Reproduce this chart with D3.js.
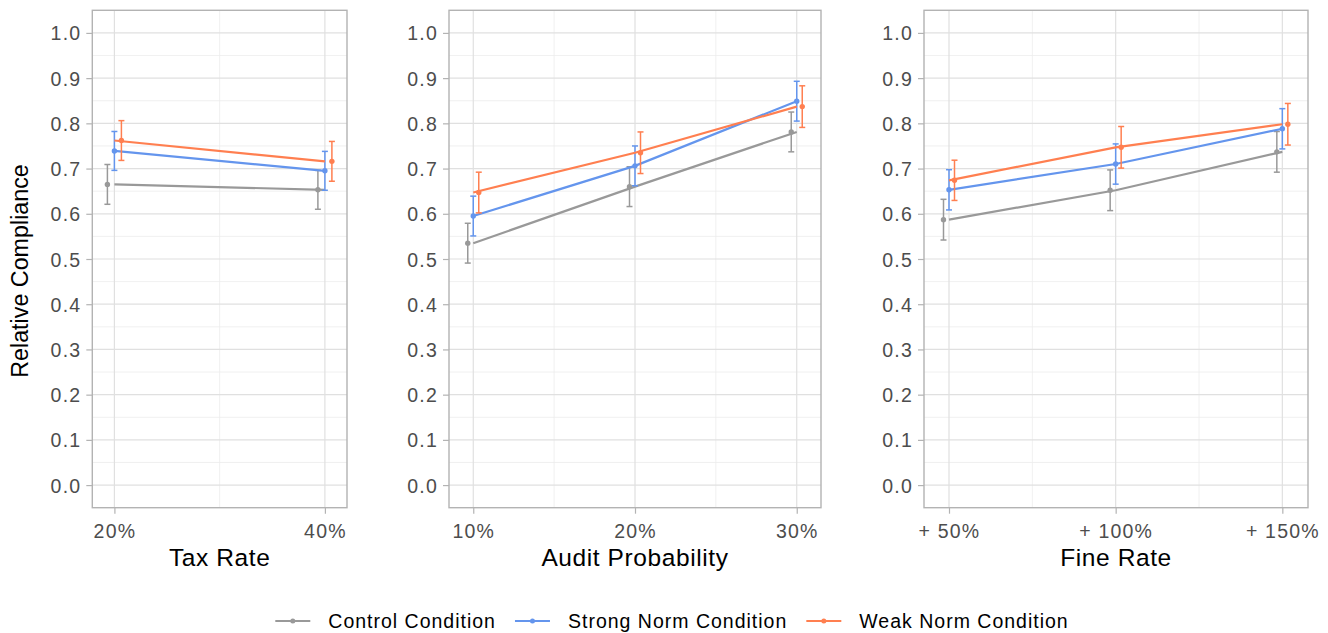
<!DOCTYPE html>
<html>
<head>
<meta charset="utf-8">
<script src="https://cdn.jsdelivr.net/npm/d3@7"></script>
<style>
  html, body { margin: 0; padding: 0; background: #ffffff; }
  svg { display: block; }
  text { font-family: "Liberation Sans", Arial, Helvetica, sans-serif; }
</style>
</head>
<body>
<svg id="chart" width="1328" height="633"></svg>
<script>
// ---------------- data ----------------
const seriesNames = ["Control Condition", "Strong Norm Condition", "Weak Norm Condition"];
const seriesColors = ["#999999", "#6495ED", "#FF7F50"];

const taxRates = [20, 40];
const taxLabels = ["20%", "40%"];
const taxControl = [0.665, 0.653];
const taxStrong = [0.739, 0.695];
const taxWeak = [0.762, 0.716];
const taxControlSE = [0.044, 0.043];
const taxStrongSE = [0.043, 0.043];
const taxWeakSE = [0.044, 0.044];

const auditRates = [10, 20, 30];
const auditLabels = ["10%", "20%", "30%"];
const auditControl = [0.535, 0.660, 0.781];
const auditStrong = [0.595, 0.706, 0.849];
const auditWeak = [0.647, 0.735, 0.837];
const auditControlSE = [0.044, 0.044, 0.044];
const auditStrongSE = [0.044, 0.044, 0.044];
const auditWeakSE = [0.045, 0.046, 0.046];

const fineRates = [50, 100, 150];
const fineLabels = ["+ 50%", "+ 100%", "+ 150%"];
const fineControl = [0.587, 0.652, 0.737];
const fineStrong = [0.653, 0.710, 0.788];
const fineWeak = [0.674, 0.747, 0.798];
const fineControlSE = [0.045, 0.045, 0.045];
const fineStrongSE = [0.0445, 0.0445, 0.0445];
const fineWeakSE = [0.0445, 0.046, 0.046];

const yTicks = [0, 0.1, 0.2, 0.3, 0.4, 0.5, 0.6, 0.7, 0.8, 0.9, 1.0];
const yTitle = "Relative Compliance";

// ---------------- layout ----------------
const panels = [
  { title: "Tax Rate", x: taxRates, labels: taxLabels, minor: [30],
    means: [taxControl, taxStrong, taxWeak], se: [taxControlSE, taxStrongSE, taxWeakSE],
    domain: [17.9, 42.1], left: 92.3, right: 347, dodge: 7 },
  { title: "Audit Probability", x: auditRates, labels: auditLabels, minor: [15, 25],
    means: [auditControl, auditStrong, auditWeak], se: [auditControlSE, auditStrongSE, auditWeakSE],
    domain: [8.5, 31.5], left: 449, right: 821, dodge: 5.5 },
  { title: "Fine Rate", x: fineRates, labels: fineLabels, minor: [75, 125],
    means: [fineControl, fineStrong, fineWeak], se: [fineControlSE, fineStrongSE, fineWeakSE],
    domain: [42.5, 157.7], left: 924, right: 1308, dodge: 5.5 }
];
const plotTop = 10.3, plotBottom = 507.7;
const y = d3.scaleLinear().domain([-0.05, 1.05]).range([plotBottom, plotTop]);
const yMinor = d3.range(0.05, 1.0, 0.1);

const svg = d3.select("#chart");
const tickColor = "#4d4d4d";
const borderColor = "#b3b3b3";

panels.forEach((p) => {
  const x = d3.scaleLinear().domain(p.domain).range([p.left, p.right]);
  const g = svg.append("g");

  // minor grid
  g.selectAll("line.ymin").data(yMinor).join("line")
    .attr("x1", p.left).attr("x2", p.right)
    .attr("y1", d => y(d)).attr("y2", d => y(d))
    .attr("stroke", "#ececec").attr("stroke-width", 0.8);
  g.selectAll("line.xmin").data(p.minor).join("line")
    .attr("y1", plotTop).attr("y2", plotBottom)
    .attr("x1", d => x(d)).attr("x2", d => x(d))
    .attr("stroke", "#ececec").attr("stroke-width", 0.8);
  // major grid
  g.selectAll("line.ymaj").data(yTicks).join("line")
    .attr("x1", p.left).attr("x2", p.right)
    .attr("y1", d => y(d)).attr("y2", d => y(d))
    .attr("stroke", "#e0e0e0").attr("stroke-width", 1.2);
  g.selectAll("line.xmaj").data(p.x).join("line")
    .attr("y1", plotTop).attr("y2", plotBottom)
    .attr("x1", d => x(d)).attr("x2", d => x(d))
    .attr("stroke", "#e0e0e0").attr("stroke-width", 1.2);

  // axes
  const yAxis = d3.axisLeft(y).tickValues(yTicks).tickFormat(d3.format(".1f")).tickSize(6).tickPadding(5);
  const ya = svg.append("g").attr("transform", `translate(${p.left},0)`).call(yAxis);
  ya.select(".domain").remove();
  ya.selectAll(".tick line").attr("stroke", borderColor).attr("stroke-width", 1.2);
  ya.selectAll(".tick text").attr("fill", tickColor).style("font-size", "19.5px")
    .style("letter-spacing", "1.2px").attr("dy", "0.36em");

  const xAxis = d3.axisBottom(x).tickValues(p.x).tickFormat((d, i) => p.labels[i]).tickSize(6).tickPadding(6);
  const xa = svg.append("g").attr("transform", `translate(0,${plotBottom})`).call(xAxis);
  xa.select(".domain").remove();
  xa.selectAll(".tick line").attr("stroke", borderColor).attr("stroke-width", 1.2);
  xa.selectAll(".tick text").attr("fill", tickColor).style("font-size", "19.5px")
    .style("letter-spacing", "1.2px").attr("dy", "0.95em");

  // x title
  svg.append("text").attr("x", (p.left + p.right) / 2).attr("y", 566)
    .attr("text-anchor", "middle").attr("fill", "#000").style("font-size", "24.5px")
    .style("letter-spacing", "0.6px").text(p.title);

  // series
  p.means.forEach((m, si) => {
    const pts = p.x.map((xv, i) => ({ x: xv, m: m[i], se: p.se[si][i] }));
    const off = (si - 1) * p.dodge;
    const col = seriesColors[si];
    const line = d3.line().x(d => x(d.x)).y(d => y(d.m));
    g.append("path").datum(pts).attr("d", line).attr("fill", "none")
      .attr("stroke", col).attr("stroke-width", 2.2);
    const eb = g.append("g");
    pts.forEach(d => {
      const cx = x(d.x) + off;
      eb.append("line").attr("x1", cx).attr("x2", cx)
        .attr("y1", y(d.m - d.se)).attr("y2", y(d.m + d.se))
        .attr("stroke", col).attr("stroke-width", 1.5);
      [d.m - d.se, d.m + d.se].forEach(v => {
        eb.append("line").attr("x1", cx - 3).attr("x2", cx + 3)
          .attr("y1", y(v)).attr("y2", y(v))
          .attr("stroke", col).attr("stroke-width", 1.5);
      });
    });
    g.selectAll(null).data(pts).join("circle")
      .attr("cx", d => x(d.x) + off).attr("cy", d => y(d.m)).attr("r", 2.7)
      .attr("fill", col);
  });

  // border
  g.append("rect").attr("x", p.left).attr("y", plotTop)
    .attr("width", p.right - p.left).attr("height", plotBottom - plotTop)
    .attr("fill", "none").attr("stroke", borderColor).attr("stroke-width", 1.4);
});

// y title
svg.append("text").attr("transform", `translate(28,271) rotate(-90)`)
  .attr("text-anchor", "middle").attr("fill", "#000").style("font-size", "23.3px")
  .text(yTitle);

// legend
const lg = svg.append("g");
let cursor = 0;
seriesNames.forEach((name, i) => {
  const it = lg.append("g");
  it.append("line").attr("x1", 0).attr("x2", 35).attr("y1", 0).attr("y2", 0)
    .attr("stroke", seriesColors[i]).attr("stroke-width", 2.2);
  it.append("circle").attr("cx", 17.5).attr("cy", 0).attr("r", 2.5).attr("fill", seriesColors[i]);
  const t = it.append("text").attr("x", 53).attr("y", 0).attr("dy", "0.36em")
    .attr("fill", "#000").style("font-size", "19.5px").style("letter-spacing", "1.0px").text(name);
  const w = 53 + t.node().getComputedTextLength();
  it.attr("transform", `translate(${cursor},0)`);
  cursor += w + 19;
});
const total = cursor - 19;
lg.attr("transform", `translate(${672 - total / 2},621)`);
</script>
</body>
</html>
